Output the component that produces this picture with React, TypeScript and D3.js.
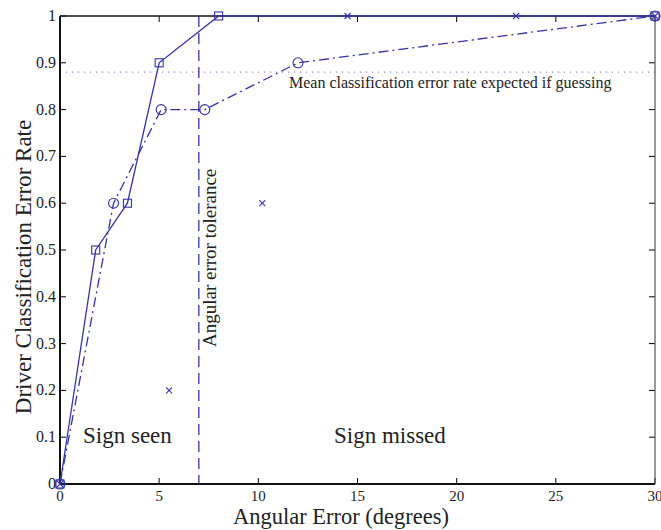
import React from "react";
import * as d3 from "d3";

const squareX = [0, 1.8, 3.4, 5, 8, 30];
const squareY = [0, 0.5, 0.6, 0.9, 1, 1];
const circleX = [0, 2.7, 5.1, 7.3, 12, 30];
const circleY = [0, 0.6, 0.8, 0.8, 0.9, 1];
const crossX = [0, 5.5, 10.2, 14.5, 23, 30];
const crossY = [0, 0.2, 0.6, 1, 1, 1];
const xTicks = [0, 5, 10, 15, 20, 25, 30];
const yTicks = [0, 0.1, 0.2, 0.3, 0.4, 0.5, 0.6, 0.7, 0.8, 0.9, 1];
const toleranceX = 7;
const guessY = 0.88;

const W = 661, H = 530;
const L = 60, R = 655, T = 16, B = 484;
const BLUE = "#3434a6";
const FONT = "'Liberation Serif', 'Times New Roman', serif";

export default function App() {
  const x = d3.scaleLinear().domain([0, 30]).range([L, R]);
  const y = d3.scaleLinear().domain([0, 1]).range([B, T]);
  const line = d3.line<[number, number]>().x(d => x(d[0])).y(d => y(d[1]));
  const sq = squareX.map((v, i) => [v, squareY[i]] as [number, number]);
  const ci = circleX.map((v, i) => [v, circleY[i]] as [number, number]);
  const cr = crossX.map((v, i) => [v, crossY[i]] as [number, number]);
  return (
    <svg width={W} height={H} style={{ position: "absolute", left: 0, top: 0, background: "#fff" }} fontFamily={FONT}>
      {/* guess line */}
      <line x1={L} x2={R} y1={y(guessY)} y2={y(guessY)} stroke="#8a8ad8" strokeWidth={1.2} strokeDasharray="1.2 4.8" />
      {/* tolerance line */}
      <line x1={x(toleranceX)} x2={x(toleranceX)} y1={T} y2={B} stroke={BLUE} strokeWidth={1.3} strokeDasharray="11 6" />
      {/* ticks */}
      {xTicks.map(t => (
        <g key={"xt" + t}>
          <line x1={x(t)} x2={x(t)} y1={B} y2={B - 6} stroke="#000" strokeWidth={1} />
          <line x1={x(t)} x2={x(t)} y1={T} y2={T + 6} stroke="#000" strokeWidth={1} />
          <text x={x(t)} y={B + 17} fontSize={15} textAnchor="middle" fill="#222">{t}</text>
        </g>
      ))}
      {yTicks.map(t => (
        <g key={"yt" + t}>
          <line x1={L} x2={L + 6} y1={y(t)} y2={y(t)} stroke="#000" strokeWidth={1} />
          <line x1={R} x2={R - 6} y1={y(t)} y2={y(t)} stroke="#000" strokeWidth={1} />
          <text x={L - 4} y={y(t) + 5} fontSize={16} textAnchor="end" fill="#222">{t === 0 ? "0" : t === 1 ? "1" : t.toFixed(1)}</text>
        </g>
      ))}
      {/* axes box */}
      <line x1={L} x2={R} y1={B} y2={B} stroke="#111" strokeWidth={2} />
      <line x1={L} x2={L} y1={T} y2={B} stroke="#111" strokeWidth={2} />
      <line x1={L} x2={R} y1={T} y2={T} stroke="#111" strokeWidth={1.5} />
      <line x1={R} x2={R} y1={T} y2={B} stroke="#555" strokeWidth={1.2} />
      {/* series */}
      <path d={line(sq) || ""} fill="none" stroke={BLUE} strokeWidth={1.3} />
      <path d={line(ci) || ""} fill="none" stroke={BLUE} strokeWidth={1.3} strokeDasharray="10 4 2 4" />
      {sq.map((d, i) => (
        <rect key={"s" + i} x={x(d[0]) - 4} y={y(d[1]) - 4} width={8} height={8} fill="none" stroke={BLUE} strokeWidth={1.1} />
      ))}
      {ci.map((d, i) => (
        <circle key={"c" + i} cx={x(d[0])} cy={y(d[1])} r={5} fill="none" stroke={BLUE} strokeWidth={1.1} />
      ))}
      {cr.map((d, i) => (
        <g key={"x" + i} stroke={BLUE} strokeWidth={1.1}>
          <line x1={x(d[0]) - 3} x2={x(d[0]) + 3} y1={y(d[1]) - 3} y2={y(d[1]) + 3} />
          <line x1={x(d[0]) - 3} x2={x(d[0]) + 3} y1={y(d[1]) + 3} y2={y(d[1]) - 3} />
        </g>
      ))}
      {/* annotations */}
      <text x={289} y={88} fontSize={16} fill="#222">Mean classification error rate expected if guessing</text>
      <text transform={`translate(216,347) rotate(-90)`} fontSize={19} fill="#222">Angular error tolerance</text>
      <text x={83} y={443} fontSize={23} fill="#222">Sign seen</text>
      <text x={334} y={443} fontSize={23} fill="#222">Sign missed</text>
      <text x={341} y={524} fontSize={22.5} textAnchor="middle" fill="#222">Angular Error (degrees)</text>
      <text transform={`translate(31,267) rotate(-90)`} fontSize={23} textAnchor="middle" fill="#222">Driver Classification Error Rate</text>
    </svg>
  );
}
